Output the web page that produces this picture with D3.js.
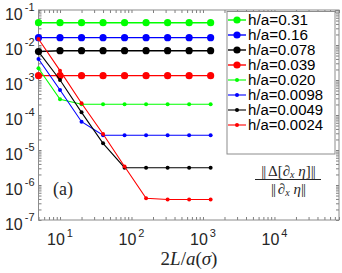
<!DOCTYPE html>
<html>
<head>
<script src="https://d3js.org/d3.v7.min.js"></script>
<style>
  body { margin: 0; background: #fff; }
  svg { display: block; }
</style>
</head>
<body>
<svg id="chart" width="342" height="273"></svg>
<script>
// data
const lengths = [5, 10, 20, 40, 80, 160, 320, 640, 1280];
const labels = ["h/a=0.31", "h/a=0.16", "h/a=0.078", "h/a=0.039",
                "h/a=0.020", "h/a=0.0098", "h/a=0.0049", "h/a=0.0024"];
const colors = ["#00ff00", "#0000ff", "#000000", "#ff0000",
                "#00ff00", "#0000ff", "#000000", "#ff0000"];
const big = [true, true, true, true, false, false, false, false];
const err031 = [0.0434, 0.0434, 0.0434, 0.0434, 0.0434, 0.0434, 0.0434, 0.0434, 0.0434];
const err016 = [0.0162, 0.0162, 0.0162, 0.0162, 0.0162, 0.0162, 0.0162, 0.0162, 0.0162];
const err0078 = [0.0065, 0.00687, 0.00687, 0.00687, 0.00687, 0.00687, 0.00687, 0.00687, 0.00687];
const err0039 = [0.00133, 0.00133, 0.00133, 0.00133, 0.00133, 0.00133, 0.00133, 0.00133, 0.00133];
const err0020 = [0.00216, 2.81e-4, 2.02e-4, 2.02e-4, 2.02e-4, 2.02e-4, 2.02e-4, 2.02e-4, 2.02e-4];
const err00098 = [3.98e-3, 5.18e-4, 6.44e-5, 2.63e-5, 2.63e-5, 2.63e-5, 2.63e-5, 2.63e-5, 2.63e-5];
const err00049 = [6.45e-3, 1.0e-3, 1.19e-4, 1.55e-5, 3.12e-6, 3.12e-6, 3.12e-6, 3.12e-6, 3.12e-6];
const err00024 = [0.0148, 1.85e-3, 2.16e-4, 2.86e-5, 3.38e-6, 4.17e-7, 3.85e-7, 3.85e-7, 3.85e-7];
const series = [err031, err016, err0078, err0039, err0020, err00098, err00049, err00024];
const xMajor = [10, 100, 1000, 10000];
const yMajor = [1e-7, 1e-6, 1e-5, 1e-4, 1e-3, 1e-2, 1e-1];

const svg = d3.select("#chart");
const margin = {top: 10, left: 38.5},
      width = 300.5, height = 210;
const g = svg.append("g").attr("transform", "translate(" + margin.left + "," + margin.top + ")");

const x = d3.scaleLog().domain([5, 8e4]).range([0, width]);
const y = d3.scaleLog().domain([1e-7, 1e-1]).range([height, 0]);

// minor + major tick positions
const xTicks = [], yTicks = [];
for (let e = 0; e <= 4; e++) for (let m = 1; m <= 9; m++) {
  const v = m * Math.pow(10, e);
  if (v >= 5 && v <= 8e4) xTicks.push(v);
}
for (let e = -7; e <= -2; e++) for (let m = 1; m <= 9; m++) yTicks.push(m * Math.pow(10, e));
yTicks.push(1e-1);

function styleAxis(sel) {
  sel.select(".domain").remove();
  sel.selectAll(".tick line").attr("stroke", "#262626").attr("stroke-width", 0.6);
}
g.append("g").attr("transform", "translate(0," + height + ")")
  .call(d3.axisBottom(x).tickValues(xTicks).tickSize(-3).tickFormat("")).call(styleAxis);
g.append("g")
  .call(d3.axisTop(x).tickValues(xTicks).tickSize(-3).tickFormat("")).call(styleAxis);
g.append("g")
  .call(d3.axisLeft(y).tickValues(yTicks).tickSize(-3).tickFormat("")).call(styleAxis);
g.append("g").attr("transform", "translate(" + width + ",0)")
  .call(d3.axisRight(y).tickValues(yTicks).tickSize(-3).tickFormat("")).call(styleAxis);

g.append("rect").attr("width", width).attr("height", height)
  .attr("fill", "none").attr("stroke", "#8c8c8c").attr("stroke-width", 1);

// tick labels 10^n
const font = "Liberation Sans, Arial, sans-serif";
xMajor.forEach(function(v) {
  const t = g.append("text").attr("x", x(v)).attr("y", height + 25)
    .attr("text-anchor", "middle").attr("font-family", font).attr("fill", "#262626");
  t.append("tspan").attr("font-size", 16).text("10");
  t.append("tspan").attr("font-size", 11).attr("dx", 2).attr("dy", -8).text(Math.round(Math.log10(v)));
});
yMajor.forEach(function(v) {
  const t = g.append("text").attr("x", -4).attr("y", y(v) + 10)
    .attr("text-anchor", "end").attr("font-family", font).attr("fill", "#262626");
  t.append("tspan").attr("font-size", 16).text("10");
  t.append("tspan").attr("font-size", 11).attr("dx", 2).attr("dy", -9.5).text(Math.round(Math.log10(v)));
});

// series
const line = d3.line().x(function(d) { return x(d[0]); }).y(function(d) { return y(d[1]); });
series.forEach(function(vals, i) {
  const pts = lengths.map(function(L, j) { return [L, vals[j]]; });
  g.append("path").datum(pts).attr("d", line).attr("fill", "none")
    .attr("stroke", colors[i]).attr("stroke-width", big[i] ? 1.4 : 1.1);
  g.selectAll(null).data(pts).enter().append("circle")
    .attr("cx", function(d) { return x(d[0]); }).attr("cy", function(d) { return y(d[1]); })
    .attr("r", big[i] ? 3.6 : 2).attr("fill", colors[i]);
});

// legend
const lg = svg.append("g").attr("transform", "translate(227,11.5)");
lg.append("rect").attr("width", 108).attr("height", 142.5)
  .attr("fill", "#fff").attr("stroke", "#8c8c8c").attr("stroke-width", 1);
labels.forEach(function(lab, i) {
  const cy = 8.5 + i * 15;
  lg.append("line").attr("x1", 1).attr("x2", 19).attr("y1", cy).attr("y2", cy)
    .attr("stroke", colors[i]).attr("stroke-width", big[i] ? 1.4 : 1.1);
  lg.append("circle").attr("cx", 10).attr("cy", cy).attr("r", big[i] ? 3.6 : 2).attr("fill", colors[i]);
  lg.append("text").attr("x", 21).attr("y", cy + 5).attr("font-family", font)
    .attr("font-size", 14).attr("textLength", lab.length * 7.5).attr("lengthAdjust", "spacingAndGlyphs")
    .attr("fill", "#000").text(lab);
});

// annotations
const serif = "Liberation Serif, DejaVu Serif, serif";
svg.append("text").attr("x", 63).attr("y", 195).attr("text-anchor", "middle")
  .attr("font-family", serif).attr("font-size", 18).attr("fill", "#262626").text("(a)");

const xl = svg.append("text").attr("x", 189).attr("y", 265).attr("text-anchor", "middle")
  .attr("font-family", serif).attr("font-size", 19).attr("fill", "#262626");
xl.append("tspan").text("2");
xl.append("tspan").attr("font-style", "italic").text("L");
xl.append("tspan").text("/");
xl.append("tspan").attr("font-style", "italic").text("a");
xl.append("tspan").text("(");
xl.append("tspan").attr("font-style", "italic").text("σ");
xl.append("tspan").text(")");

const num = svg.append("text").attr("x", 288).attr("y", 176).attr("text-anchor", "middle")
  .attr("font-family", serif).attr("font-size", 15).attr("fill", "#262626");
num.append("tspan").attr("letter-spacing", -1).text("|| ");
num.append("tspan").text("Δ[∂");
num.append("tspan").attr("font-style", "italic").attr("font-size", 10).attr("dy", 2).text("x");
num.append("tspan").attr("font-style", "italic").attr("dy", -2).text(" η");
num.append("tspan").text("]");
num.append("tspan").attr("letter-spacing", -1).text("||");
svg.append("line").attr("x1", 255).attr("x2", 321).attr("y1", 179.5).attr("y2", 179.5)
  .attr("stroke", "#262626").attr("stroke-width", 1);
const den = svg.append("text").attr("x", 288).attr("y", 194).attr("text-anchor", "middle")
  .attr("font-family", serif).attr("font-size", 15).attr("fill", "#262626");
den.append("tspan").attr("letter-spacing", -1).text("|| ");
den.append("tspan").text("∂");
den.append("tspan").attr("font-style", "italic").attr("font-size", 10).attr("dy", 2).text("x");
den.append("tspan").attr("font-style", "italic").attr("dy", -2).text(" η");
den.append("tspan").attr("letter-spacing", -1).text("||");
</script>
</body>
</html>
